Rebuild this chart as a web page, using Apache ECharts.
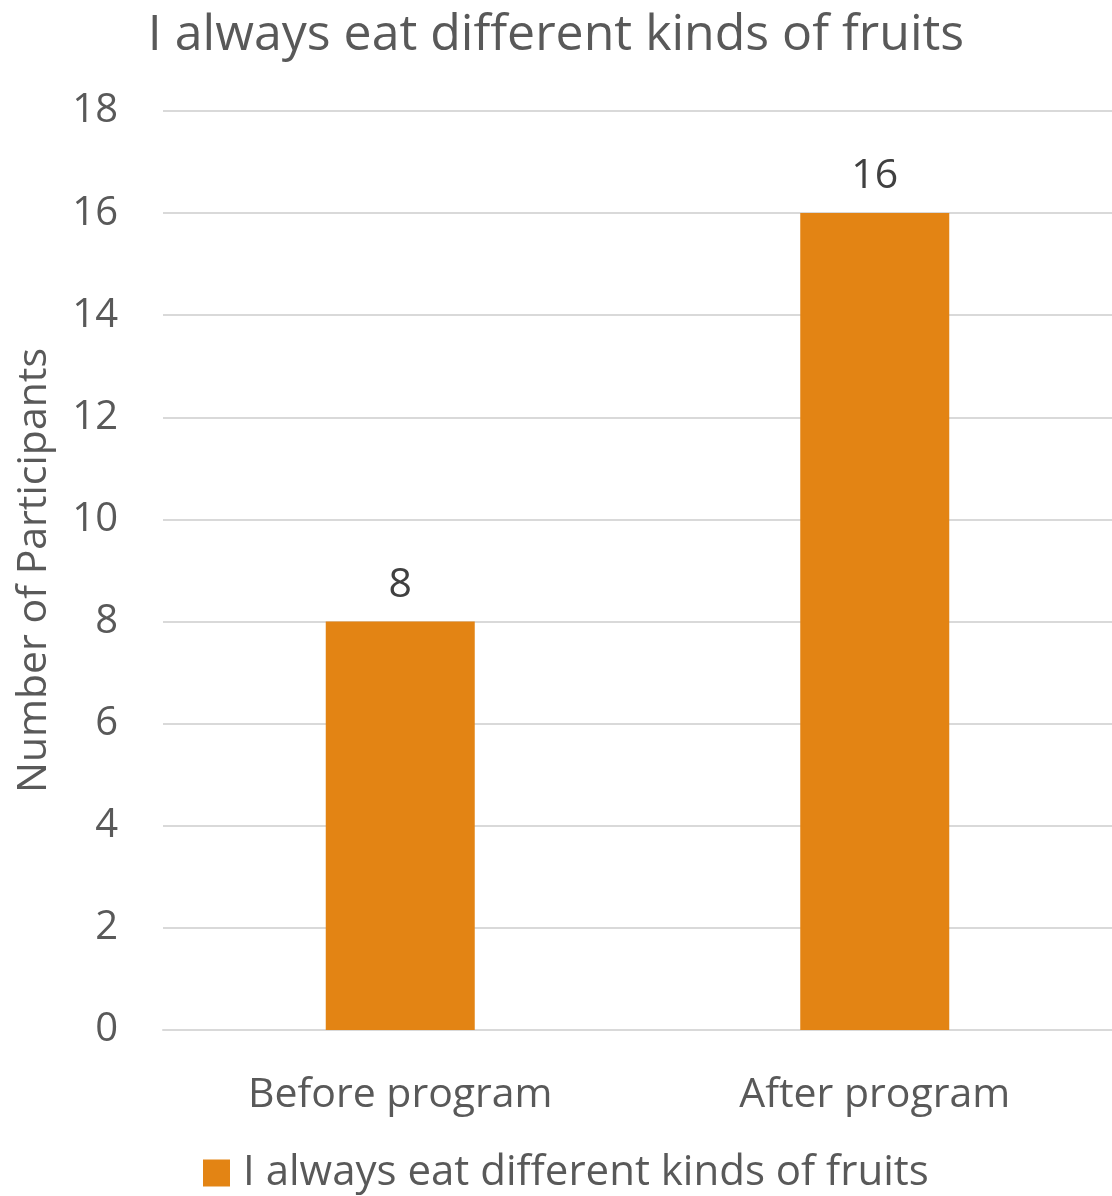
<!DOCTYPE html>
<html>
<head>
<meta charset="utf-8">
<script src="https://cdn.jsdelivr.net/npm/echarts@6/dist/echarts.min.js"></script>
<style>
  html, body { margin: 0; padding: 0; background: #fff; }
  #chart { width: 1112px; height: 1196px; }
</style>
</head>
<body>
<div id="chart"></div>
<script>
// Survey answers before and after the program
const chartTitle = 'I always eat different kinds of fruits';
const categories = ['Before program', 'After program'];
const seriesName = 'I always eat different kinds of fruits';
const participants = [8, 16];
const yTicks = { min: 0, max: 18, interval: 2 };
const yAxisName = 'Number of Participants';

const FONT = '"Open Sans", "Noto Sans", sans-serif';
const chart = echarts.init(document.getElementById('chart'), null, { renderer: 'canvas' });

chart.setOption({
  backgroundColor: '#ffffff',
  animation: false,
  title: {
    text: chartTitle,
    left: 'center',
    top: 6,
    textStyle: { fontFamily: FONT, fontSize: 50, fontWeight: 'normal', color: '#595959' }
  },
  legend: {
    top: 1147,
    left: 198,
    itemWidth: 27,
    itemHeight: 27,
    itemGap: 10,
    icon: 'rect',
    textStyle: { fontFamily: FONT, fontSize: 42, color: '#595959', padding: [0, 0, 0, 8] },
    data: [seriesName]
  },
  grid: { left: 163, right: 0, top: 111, bottom: 166, containLabel: false },
  xAxis: {
    type: 'category',
    data: categories,
    axisLine: { show: true, lineStyle: { color: '#d9d9d9', width: 2 } },
    axisTick: { show: false },
    axisLabel: { fontFamily: FONT, fontSize: 41, color: '#595959', margin: 45 }
  },
  yAxis: {
    type: 'value',
    min: yTicks.min,
    max: yTicks.max,
    interval: yTicks.interval,
    name: yAxisName,
    nameLocation: 'middle',
    nameGap: 108,
    nameTextStyle: { fontFamily: FONT, fontSize: 41, color: '#595959' },
    axisLine: { show: false },
    axisTick: { show: false },
    axisLabel: { fontFamily: FONT, fontSize: 40, color: '#595959', margin: 45 },
    splitLine: { lineStyle: { color: '#d9d9d9', width: 2 } }
  },
  series: [{
    name: seriesName,
    type: 'bar',
    data: participants,
    barWidth: 149,
    itemStyle: { color: '#E38414' },
    label: {
      show: true,
      position: 'top',
      distance: 16,
      fontFamily: FONT,
      fontSize: 41,
      color: '#404040'
    }
  }]
});
</script>
</body>
</html>
